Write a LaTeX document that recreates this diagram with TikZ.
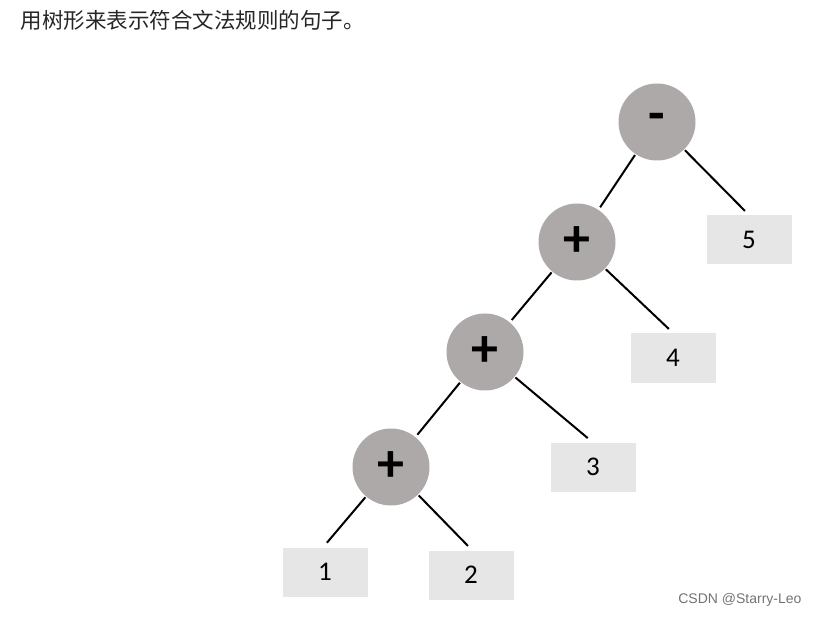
\documentclass[tikz,border=0pt]{standalone}
\usepackage{fontspec}
\setmainfont{Carlito}
\newfontfamily\cjk{Noto Sans CJK SC}
\newfontfamily\wm{Liberation Sans}
\definecolor{circ}{HTML}{ADA9A8}
\definecolor{boxc}{HTML}{E6E6E6}
\begin{document}
\begin{tikzpicture}[x=1pt,y=-1pt,
  op/.style={circle,fill=circ,minimum size=77pt,inner sep=0pt,font=\fontsize{54}{54}\selectfont\bfseries},
  leaf/.style={rectangle,fill=boxc,minimum width=85pt,minimum height=49pt,inner sep=0pt,font=\fontsize{27}{27}\selectfont},
  edge/.style={line width=2pt,shorten <=1pt,shorten >=3pt}]
\useasboundingbox (0,0) rectangle (819,617);
\node[anchor=west,font=\cjk\fontsize{21.5}{22}\selectfont,text=black!85] (title) at (17,20) {用树形来表示符合文法规则的句子。};
\node[op] (m) at (657,122) {-};
\node[op] (p1) at (577,242) {+};
\node[op] (p2) at (485,352) {+};
\node[op] (p3) at (391,467) {+};
\node[leaf] (n5) at (749,240) {5};
\node[leaf] (n4) at (673,358) {4};
\node[leaf] (n3) at (593,467) {3};
\node[leaf] (n1) at (325,572) {1};
\node[leaf] (n2) at (471,575) {2};
\coordinate (t5) at (747,213);
\coordinate (t4) at (671,331);
\coordinate (t3) at (590,440);
\coordinate (t1) at (325,545);
\coordinate (t2) at (470,548);
\draw[edge] (m) -- (p1);
\draw[edge] (m) -- (t5);
\draw[edge] (p1) -- (p2);
\draw[edge] (p1) -- (t4);
\draw[edge] (p2) -- (p3);
\draw[edge] (p2) -- (t3);
\draw[edge] (p3) -- (t1);
\draw[edge] (p3) -- (t2);
\node[anchor=east,font=\wm\fontsize{14}{14}\selectfont,text=black!55] (wmk) at (805,600) {CSDN @Starry-Leo};
\end{tikzpicture}
\end{document}
